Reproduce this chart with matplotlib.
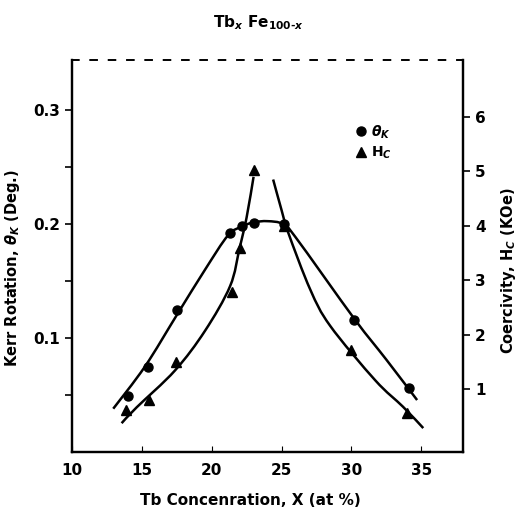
import numpy as np
import matplotlib.pyplot as plt
from matplotlib.path import Path
from matplotlib.patches import PathPatch

x_theta = [14.0, 15.45, 17.5, 21.3, 22.2, 23.0, 25.2, 30.2, 34.1]
theta_k = [0.049, 0.0746, 0.125, 0.192, 0.198, 0.201, 0.200, 0.116, 0.056]

x_hc = [13.9, 15.5, 17.45, 21.45, 22.0, 23.0, 25.2, 30.0, 34.0]
hc = [0.62, 0.79, 1.49, 2.79, 3.59, 5.03, 4.0, 1.72, 0.56]

# hand-drawn fit curves
theta_curve_x = [12.96, 15.23, 17.5, 19.53, 21.17, 22.2, 23.0, 24.0, 25.1,
                 26.0, 30.2, 32.5, 34.7]
theta_curve_y = [0.038, 0.075, 0.120, 0.160, 0.190, 0.198, 0.2015, 0.2025, 0.200,
                 0.1885, 0.117, 0.081, 0.0456]

hc_left_x = [13.56, 14.63, 17.38, 19.53, 21.32, 22.0, 22.5, 23.0]
hc_left_y = [0.37, 0.66, 1.34, 2.07, 2.89, 3.59, 4.15, 4.9]
hc_right_x = [24.4, 25.0, 25.47, 27.05, 28.48, 31.7, 33.7, 35.14]
hc_right_y = [4.85, 4.29, 3.88, 2.83, 2.16, 1.16, 0.67, 0.28]


def smooth_curve(a, xs, ys):
    # bezier path through the sampled points (catmull-rom style handles), in display space
    pts = a.transData.transform(np.column_stack([xs, ys]))
    verts = [pts[0]]
    codes = [Path.MOVETO]
    n = len(pts)
    for i in range(n - 1):
        p0 = pts[max(i - 1, 0)]
        p1 = pts[i]
        p2 = pts[i + 1]
        p3 = pts[min(i + 2, n - 1)]
        verts += [p1 + (p2 - p0) / 6, p2 - (p3 - p1) / 6, p2]
        codes += [Path.CURVE4] * 3
    verts = a.transData.inverted().transform(np.array(verts))
    a.add_patch(PathPatch(Path(verts, codes), fill=False, ec='black', lw=1.8))


plt.rcParams['font.family'] = 'DejaVu Sans'
plt.rcParams['font.weight'] = 'bold'

fig = plt.figure(figsize=(5.17, 5.16), dpi=100)
ax = fig.add_axes([0.139, 0.124, 0.757, 0.76])
ax2 = ax.twinx()

ax.set_xlim(10, 38)
ax.set_ylim(0, 0.344)
ax2.set_ylim(-0.16, 7.05)

smooth_curve(ax, theta_curve_x, theta_curve_y)
ax.plot(x_theta, theta_k, 'o', color='black', ms=6.5)
smooth_curve(ax2, hc_left_x, hc_left_y)
smooth_curve(ax2, hc_right_x, hc_right_y)
ax2.plot(x_hc, hc, '^', color='black', ms=7.5)

ax.set_xticks([10, 15, 20, 25, 30, 35])
ax.set_yticks([0.05, 0.1, 0.15, 0.2, 0.25, 0.3])
ax.set_yticklabels(['', '0.1', '', '0.2', '', '0.3'])
ax2.set_yticks([1, 2, 3, 4, 5, 6])
ax.tick_params(axis='x', direction='in', length=4, labelsize=11, pad=8)
ax.tick_params(axis='y', direction='out', length=5, width=1.2, labelsize=11)
ax2.tick_params(axis='y', direction='out', length=5, width=1.2, labelsize=11)

for a in (ax, ax2):
    for s in ['left', 'right', 'bottom']:
        a.spines[s].set_linewidth(1.6)
    a.spines['top'].set_linestyle((0, (4, 7)))
    a.spines['top'].set_linewidth(1.2)

fig.text(0.485, 0.031, 'Tb Concenration, X (at %)', ha='center', va='center', fontsize=11)
fig.text(0.024, 0.48, r'Kerr Rotation, $\theta_K$ (Deg.)', ha='center', va='center',
         rotation=90, fontsize=10.5)
fig.text(0.983, 0.475, r'Coercivity, H$_C$ (KOe)', ha='center', va='center',
         rotation=90, fontsize=10.5)
fig.text(0.5, 0.957, r'Tb$_x$ Fe$_{100\text{-}x}$', ha='center', va='center', fontsize=11)

ax.plot([], [], 'o', color='black', ms=6.5, label=r'$\theta_K$')
ax.plot([], [], '^', color='black', ms=7.5, label=r'H$_C$')
ax.legend(loc='upper left', bbox_to_anchor=(0.69, 0.87), frameon=False,
          fontsize=10, handletextpad=0.2, labelspacing=0.3, handlelength=1.0)

fig.savefig('out.png', dpi=100)
